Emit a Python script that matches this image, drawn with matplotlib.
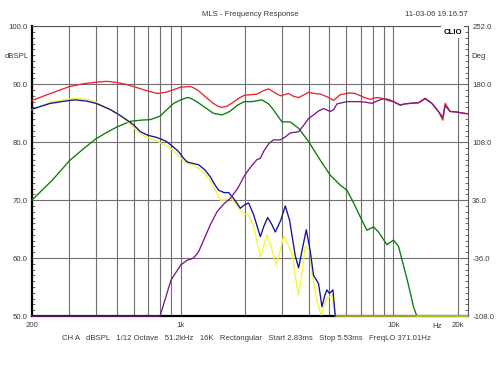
import matplotlib
matplotlib.use("Agg")
import matplotlib.pyplot as plt
import numpy as np

plt.rcParams["font.family"] = ["Liberation Sans", "DejaVu Sans"]

# --- data (Hz, dBSPL) ---
red_f = [200, 244, 300, 350, 400, 450, 500, 550, 600, 690, 775, 850, 900, 1000, 1111, 1147,
         1220, 1300, 1420, 1500, 1564, 1650, 1750, 1880, 1991, 2150, 2284, 2450, 2589, 2750,
         2938, 3214, 3400, 3581, 3991, 4250, 4528, 4900, 5228, 5620, 5825, 6200, 6609, 7108,
         7400, 7776, 8100, 8505, 8978, 9475, 10000, 10750, 11300, 11980, 13110, 14090, 15150,
         16270, 17060, 17490, 18460, 19850, 21310, 22400]
red_db = [87.2, 88.4, 89.6, 90.1, 90.35, 90.5, 90.3, 90.0, 89.6, 88.9, 88.4, 88.6, 88.9, 89.5,
          89.6, 89.4, 88.8, 87.9, 86.7, 86.2, 86.0, 86.2, 86.8, 87.6, 88.1, 88.2, 88.3, 88.9,
          89.2, 88.6, 88.0, 88.4, 87.9, 87.7, 88.6, 88.4, 88.3, 87.8, 87.2, 88.2, 88.3, 88.5,
          88.4, 87.9, 87.6, 87.4, 87.6, 87.7, 87.5, 87.4, 87.0, 86.4, 86.6, 86.7, 86.8, 87.6,
          86.7, 85.3, 83.8, 86.7, 85.3, 85.2, 85.0, 84.9]

purple_f = [200, 800, 850, 900, 1000, 1070, 1147, 1210, 1282, 1380, 1482, 1600, 1712, 1850,
            2000, 2150, 2284, 2367, 2453, 2600, 2733, 2938, 3100, 3273, 3581, 3800, 3991, 4211,
            4450, 4693, 5045, 5228, 5424, 6042, 6850, 7400, 7920, 8500, 8978, 9475, 10000,
            10750, 11300, 11980, 13110, 14090, 15150, 16270, 17060, 17490, 18460, 19850, 21310,
            22400]
purple_db = [50.0, 50.0, 53.2, 56.2, 58.8, 59.6, 60.0, 61.0, 63.1, 65.8, 68.0, 69.4, 70.3, 72.0,
             74.3, 75.9, 77.0, 77.2, 78.4, 79.8, 80.4, 80.4, 80.9, 81.6, 81.8, 83.0, 84.1, 84.7,
             85.4, 85.8, 85.3, 85.6, 86.6, 87.0, 87.0, 86.9, 86.7, 87.2, 87.5, 87.2, 87.0, 86.4,
             86.6, 86.7, 86.8, 87.5, 86.7, 85.3, 84.3, 86.3, 85.3, 85.2, 85.0, 84.9]

green_f = [200, 250, 300, 350, 400, 450, 500, 580, 650, 721, 800, 860, 927, 1000, 1072, 1111,
           1200, 1300, 1420, 1564, 1700, 1850, 1991, 2164, 2411, 2589, 2700, 2835, 2993, 3273,
           3581, 3991, 4250, 4528, 5045, 5620, 6042, 6500, 6980, 7503, 8057, 8505, 9312, 10000,
           10560, 11000, 11560, 12000, 12410, 12880, 22400]
green_db = [70.0, 73.5, 76.8, 78.9, 80.6, 81.7, 82.6, 83.6, 83.8, 83.9, 84.5, 85.6, 86.7, 87.3,
            87.7, 87.6, 86.9, 86.0, 85.0, 84.7, 85.3, 86.4, 87.0, 87.0, 87.3, 86.6, 85.8, 84.7,
            83.5, 83.5, 82.4, 80.1, 78.5, 76.9, 74.3, 72.6, 71.7, 69.5, 67.1, 64.8, 65.4, 64.5,
            62.3, 63.1, 62.0, 59.5, 56.5, 54.0, 51.6, 50.0, 50.0]

blue_f = [200, 244, 300, 320, 360, 400, 468, 520, 560, 600, 647, 700, 775, 850, 900, 970, 1033,
          1072, 1150, 1215, 1300, 1379, 1450, 1508, 1600, 1680, 1780, 1907, 2000, 2086, 2200,
          2367, 2460, 2562, 2680, 2784, 2950, 3101, 3250, 3450, 3581, 3750, 3892, 4050, 4211,
          4445, 4612, 4750, 4868, 5006, 5194, 5325]
blue_db = [85.7, 86.7, 87.2, 87.3, 87.1, 86.7, 85.6, 84.6, 83.8, 83.0, 81.8, 81.2, 80.8, 80.2,
           79.5, 78.5, 77.2, 76.6, 76.3, 76.1, 75.2, 74.0, 72.6, 71.7, 71.3, 71.3, 70.2, 68.6,
           69.2, 69.5, 67.5, 63.7, 65.5, 67.0, 65.8, 64.5, 66.5, 69.0, 66.5, 60.5, 58.3, 62.0,
           64.9, 61.5, 57.0, 55.6, 51.6, 53.5, 54.5, 53.9, 54.5, 50.0]

yellow_f = [200, 244, 300, 320, 360, 400, 468, 520, 560, 647, 700, 775, 900, 970, 1033, 1072,
            1150, 1215, 1300, 1379, 1450, 1536, 1620, 1712, 1800, 1907, 2000, 2086, 2200, 2367,
            2450, 2545, 2680, 2814, 2950, 3045, 3200, 3334, 3450, 3581, 3700, 3850, 4063, 4139,
            4350, 4563, 4700, 4868, 5138, 5325, 22400]
yellow_db = [85.6, 86.9, 87.5, 87.6, 87.4, 86.9, 85.6, 84.5, 83.6, 81.4, 80.8, 80.2, 78.9, 77.8,
             76.8, 76.4, 75.9, 75.5, 74.5, 73.3, 71.8, 70.0, 70.0, 70.3, 69.5, 68.3, 67.6, 67.4,
             65.5, 60.2, 62.0, 64.0, 61.5, 58.8, 61.5, 63.8, 62.3, 60.8, 57.0, 53.6, 57.0, 62.0,
             61.1, 57.4, 53.0, 50.2, 51.5, 53.1, 53.6, 50.0, 50.0]

x_grid = [300, 400, 500, 600, 700, 800, 900, 2000, 3000, 4000, 5000, 6000, 7000, 8000, 9000]
x_major = [200, 1000, 10000, 20000]
x_labels = ["200", "1k", "10k", "20k"]
y_ticks = [50, 60, 70, 80, 90, 100]
deg_ticks = [-108, -36, 36, 108, 180, 252]

info = ("CH A   dBSPL   1/12 Octave   51.2kHz   16K   Rectangular   "
        "Start 2.83ms   Stop 5.53ms   FreqLO 371.01Hz")

TXT = "#3a3a3a"
GRID = "#6e6e6e"
FS = 5.6

fig = plt.figure(figsize=(5, 3.75), dpi=100)
ax = fig.add_axes([0.064, 0.1573, 0.872, 0.7726])
ax.set_xscale("log")
ax.set_xlim(200, 22400)
ax.set_ylim(50, 100)

# grid
ax.set_xticks(x_major)
ax.set_xticklabels(x_labels)
ax.set_xticks(x_grid, minor=True)
ax.xaxis.set_minor_formatter(matplotlib.ticker.NullFormatter())
ax.set_yticks(y_ticks)
ax.set_yticklabels([f"{v:.1f}" for v in y_ticks])
ax.set_yticks(np.arange(50, 101, 1), minor=True)
ax.grid(True, which="both", axis="x", color=GRID, lw=0.8)
ax.grid(True, which="major", axis="y", color=GRID, lw=0.8)
ax.tick_params(axis="x", which="both", length=0, pad=4, labelsize=FS, labelcolor=TXT)
ax.tick_params(axis="y", which="major", length=0, pad=3, labelsize=FS, labelcolor=TXT)
ax.tick_params(axis="y", which="minor", direction="in", length=2.5, width=0.6, color="#555555")

for side in ("top", "right"):
    ax.spines[side].set_color("#555555")
    ax.spines[side].set_linewidth(0.8)
for side in ("left", "bottom"):
    ax.spines[side].set_color("black")
    ax.spines[side].set_linewidth(1.6)

ax2 = ax.twinx()
ax2.set_ylim(-108, 252)
ax2.set_yticks(deg_ticks)
ax2.set_yticklabels([f"{v:.1f}" for v in deg_ticks])
ax2.set_yticks(np.arange(-108, 252.1, 7.2), minor=True)
ax2.tick_params(axis="y", which="major", length=0, pad=3, labelsize=FS, labelcolor=TXT)
ax2.tick_params(axis="y", which="minor", direction="in", length=2.5, width=0.6, color="#555555")
for s in ax2.spines.values():
    s.set_visible(False)

lw = 0.95
kw = dict(lw=lw, clip_on=False)
ax.plot(green_f, green_db, color="#0a7a0a", zorder=3, **kw)
ax.plot(red_f, red_db, color="#e8262a", zorder=4, **kw)
ax.plot(yellow_f, yellow_db, color="#f5f532", zorder=5, **kw)
ax.plot(blue_f, blue_db, color="#12129a", zorder=6, **kw)
ax.plot(purple_f, purple_db, color="#7a1a8a", zorder=7, **kw)

# texts
fig.text(0.5, 1 - 14 / 375, "MLS - Frequency Response", ha="center", va="center",
         fontsize=FS, color=TXT)
fig.text(468 / 500, 1 - 14 / 375, "11-03-06 19.16.57", ha="right", va="center",
         fontsize=FS, color=TXT)
fig.text(29 / 500, 1 - 56 / 375, "dBSPL", ha="right", va="center", fontsize=FS, color=TXT)
fig.text(471 / 500, 1 - 56 / 375, "Deg", ha="left", va="center", fontsize=FS, color=TXT)
fig.text(437 / 500, 1 - 326 / 375, "Hz", ha="center", va="center", fontsize=FS, color=TXT)
fig.text(462 / 500, 1 - 32 / 375, "CLIO", ha="right", va="center", fontsize=5.6,
         fontweight="bold", color="black", zorder=10,
         bbox=dict(facecolor="white", edgecolor="none", pad=1.5))
fig.text(246 / 500, 1 - 339 / 375, info, ha="center", va="center", fontsize=FS, color=TXT)

fig.savefig("out.png", dpi=100)
